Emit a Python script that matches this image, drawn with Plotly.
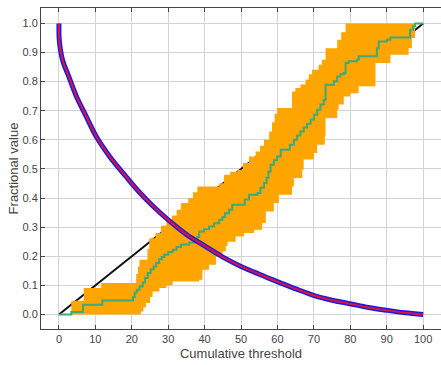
import plotly.graph_objects as go

# Diagonal reference
diag_x = [0, 100]
diag_y = [0.0, 1.0]

# Decreasing curve
curve_x = [0, 0.05, 0.4, 1.1, 2.5, 4.8, 7.5, 10.2, 13.9, 18.4, 22.1, 26, 30, 35, 40.2, 45,
           50, 55, 60.1, 65, 70.3, 75, 80.2, 85, 90.2, 95, 100]
curve_y = [1.0, 0.95, 0.91, 0.869, 0.824, 0.749, 0.680, 0.612, 0.543, 0.474, 0.42, 0.37,
           0.325, 0.275, 0.234, 0.197, 0.165, 0.138, 0.112, 0.088, 0.064, 0.049, 0.036,
           0.024, 0.014, 0.006, 0.0]

# Empirical step line
step_x = [0, 3.4, 6.6, 11.9, 20.3, 20.8, 21.4, 22.1, 23.0, 23.6, 24.4, 25.2, 26.0, 26.7,
          27.5, 28.2, 28.9, 30.0, 31.2, 32.3, 33.5, 35.8, 37.2, 38.0, 38.5, 39.8, 41.2,
          42.6, 44.0, 44.9, 45.6, 46.7, 47.6, 51.0, 52.2, 54.5, 55.3, 56.3, 57.0, 57.5,
          58.1, 59.0, 59.9, 60.9, 63.4, 64.5, 65.4, 66.3, 67.2, 68.1, 69.1, 70.0, 70.9,
          71.8, 72.7, 73.2, 75.5, 76.4, 77.3, 78.2, 78.7, 79.5, 81.8, 82.3, 87.3, 87.8,
          90.0, 91.0, 96.4, 97.2, 97.8, 100]
step_y = [0.0, 0.008, 0.033, 0.048, 0.06, 0.075, 0.085, 0.096, 0.11, 0.125, 0.142, 0.155,
          0.165, 0.177, 0.19, 0.197, 0.205, 0.215, 0.222, 0.232, 0.240, 0.247, 0.255, 0.266,
          0.285, 0.293, 0.302, 0.313, 0.325, 0.335, 0.348, 0.36, 0.377, 0.395, 0.411, 0.417,
          0.435, 0.452, 0.47, 0.49, 0.514, 0.53, 0.543, 0.566, 0.583, 0.600, 0.615, 0.629,
          0.642, 0.655, 0.669, 0.686, 0.703, 0.721, 0.738, 0.789, 0.801, 0.818, 0.825,
          0.830, 0.864, 0.870, 0.875, 0.887, 0.915, 0.938, 0.944, 0.952, 0.978, 0.99, 1.0, 1.0]

# Band upper bound
upper_x = [3.4, 6.8, 11.6, 21.2, 21.7, 22.1, 24.3, 24.8, 26.5, 28.0, 29.5, 31.0, 32.3, 33.5,
           35.5, 36.8, 38.0, 44.0, 45.3, 47.0, 49.0, 50.5, 52.2, 54.0, 55.2, 56.3, 57.7,
           58.5, 59.2, 59.9, 64.0, 64.9, 66.3, 67.7, 68.6, 69.5, 71.3, 72.2, 73.2, 76.4,
           77.5, 78.7, 97.8]
upper_y = [0.047, 0.091, 0.108, 0.139, 0.165, 0.188, 0.225, 0.262, 0.28, 0.305, 0.32, 0.34,
           0.36, 0.383, 0.40, 0.42, 0.44, 0.451, 0.48, 0.49, 0.497, 0.52, 0.543, 0.56, 0.58,
           0.600, 0.629, 0.66, 0.69, 0.709, 0.766, 0.778, 0.79, 0.807, 0.825, 0.841, 0.858,
           0.875, 0.915, 0.944, 0.97, 1.0, 1.0]

# Band lower bound
lower_x = [3.4, 22.5, 23.2, 23.9, 25.0, 25.7, 27.6, 29.5, 31.2, 38.5, 39.4, 41.2, 43.1, 44.9,
           45.8, 46.3, 48.5, 50.8, 53.6, 55.8, 56.8, 59.0, 60.4, 64.0, 64.5, 66.8, 67.2,
           70.0, 70.9, 73.0, 73.2, 76.4, 76.8, 78.2, 80.0, 82.3, 86.9, 91.0, 96.0, 96.9, 97.8]
lower_y = [0.0, 0.01, 0.025, 0.039, 0.06, 0.079, 0.091, 0.10, 0.113, 0.119, 0.154, 0.171,
           0.199, 0.216, 0.235, 0.25, 0.268, 0.280, 0.291, 0.314, 0.354, 0.383, 0.411, 0.44,
           0.469, 0.497, 0.532, 0.555, 0.583, 0.612, 0.675, 0.703, 0.721, 0.749, 0.76, 0.784,
           0.864, 0.892, 0.915, 0.950, 1.0]

x_ticks = list(range(0, 101, 10))
y_ticks = [i / 10 for i in range(11)]

fig = go.Figure()
fig.add_trace(go.Scatter(x=diag_x, y=diag_y, mode="lines",
                         line=dict(color="#111111", width=2), showlegend=False))
fig.add_trace(go.Scatter(x=upper_x, y=upper_y, mode="lines",
                         line=dict(color="#FFA500", width=0, shape="hv"), showlegend=False))
fig.add_trace(go.Scatter(x=lower_x, y=lower_y, mode="lines", fill="tonexty",
                         fillcolor="#FFA500",
                         line=dict(color="#FFA500", width=0, shape="hv"), showlegend=False))
fig.add_trace(go.Scatter(x=step_x, y=step_y, mode="lines",
                         line=dict(color="#3DAA78", width=2, shape="hv"), showlegend=False))
fig.add_trace(go.Scatter(x=curve_x, y=curve_y, mode="lines",
                         line=dict(color="#1A1AE6", width=5, shape="spline"), showlegend=False))
fig.add_trace(go.Scatter(x=curve_x, y=curve_y, mode="lines",
                         line=dict(color="#DC143C", width=2, shape="spline"), showlegend=False))

font = dict(family="Liberation Sans, Arial, sans-serif", size=11, color="#444444")
fig.update_layout(
    width=441, height=365,
    margin=dict(l=41, r=0, t=8, b=36, autoexpand=False),
    paper_bgcolor="white", plot_bgcolor="white",
    font=font,
    xaxis=dict(range=[-4.93, 104.9], tickvals=x_ticks, ticks="inside", ticklen=4,
               tickcolor="#444444", showline=True, linecolor="#444444", linewidth=1,
               mirror="ticks", showgrid=True, gridcolor="#d3d3d3", gridwidth=1,
               zeroline=False, automargin=False,
               title=dict(text="Cumulative threshold", standoff=4)),
    yaxis=dict(range=[-0.05, 1.053], tickvals=y_ticks, tickformat=".1f", ticks="inside",
               ticklen=4, tickcolor="#444444", showline=True, linecolor="#444444",
               linewidth=1, showgrid=True, gridcolor="#d3d3d3", gridwidth=1,
               zeroline=False, automargin=False,
               title=dict(text="Fractional value", standoff=0)),
)
fig.write_html("out.html", config={"displayModeBar": False},
               post_script="document.body.style.margin='0px';document.body.style.overflow='hidden';")
